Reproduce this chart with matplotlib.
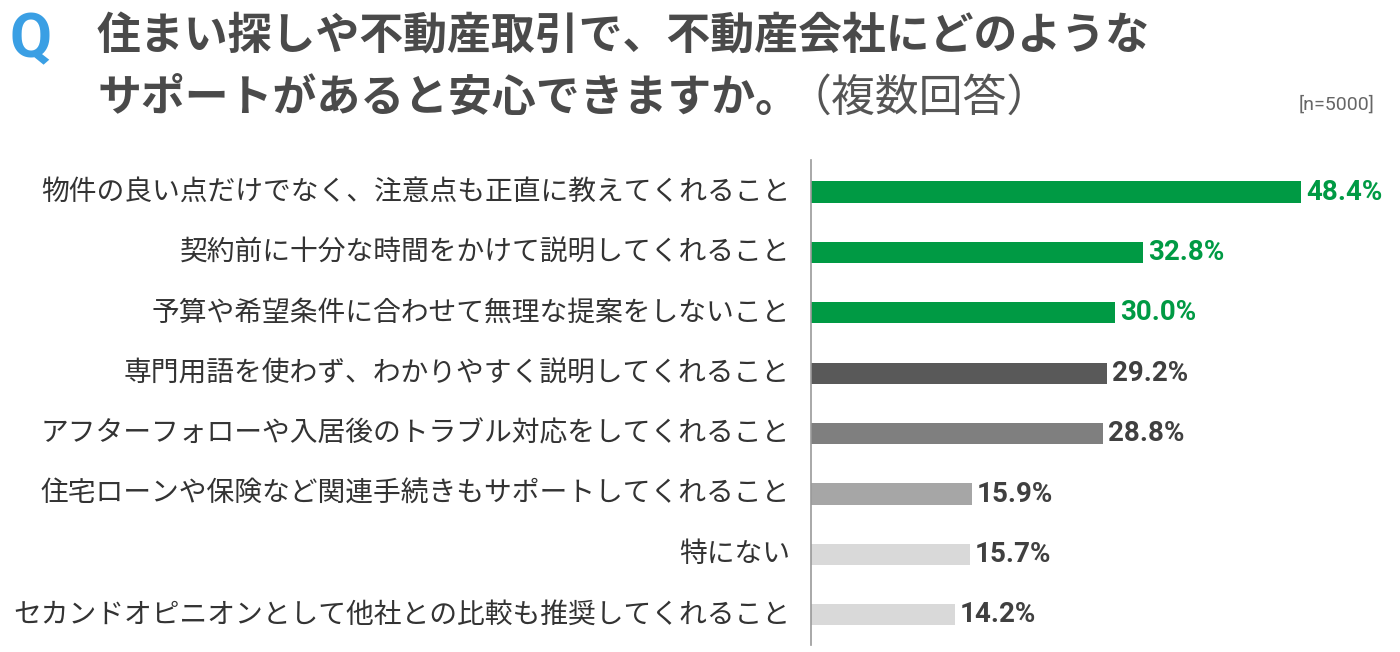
import matplotlib
matplotlib.use("Agg")
import matplotlib.pyplot as plt

plt.rcParams['font.family'] = ['Noto Sans CJK JP', 'DejaVu Sans']

""" Data"""
categories = [
    "物件の良い点だけでなく、注意点も正直に教えてくれること",
    "契約前に十分な時間をかけて説明してくれること",
    "予算や希望条件に合わせて無理な提案をしないこと",
    "専門用語を使わず、わかりやすく説明してくれること",
    "アフターフォローや入居後のトラブル対応をしてくれること",
    "住宅ローンや保険など関連手続きもサポートしてくれること",
    "特にない",
    "セカンドオピニオンとして他社との比較も推奨してくれること",
]
values = [48.4, 32.8, 30.0, 29.2, 28.8, 15.9, 15.7, 14.2]
bar_colors = ["#009a44", "#009a44", "#009a44", "#595959",
              "#7f7f7f", "#a6a6a6", "#d9d9d9", "#d9d9d9"]
label_colors = ["#009a44", "#009a44", "#009a44", "#404040",
                "#404040", "#404040", "#404040", "#404040"]

W, H = 1400, 652
fig = plt.figure(figsize=(W / 100, H / 100), dpi=100)

""" Axes placed in pixel coordinates"""
x0, y_top, y_bot = 811, 160, 645
ax = fig.add_axes([x0 / W, 1 - y_bot / H, (W - x0) / W, (y_bot - y_top) / H])
px_per_pct = (1301 - x0) / 48.4
ax.set_xlim(0, (W - x0) / px_per_pct)
ax.set_ylim(7.5, -0.53)

pos = list(range(len(values)))
ax.barh(pos, values, height=0.35, color=bar_colors)
for i, v in enumerate(values):
    ax.text(v + 0.5, i, f"{v:.1f}%", va="center", ha="left",
            fontsize=20, fontweight="bold", color=label_colors[i],
            family=["Roboto", "DejaVu Sans"])
    fig.text(790 / W, 1 - (192 + 60.4 * i) / H, categories[i],
             ha="right", va="center", fontsize=20, color="#333333")

for s in ["top", "right", "bottom"]:
    ax.spines[s].set_visible(False)
ax.spines["left"].set_color("#999999")
ax.spines["left"].set_linewidth(1.2)
ax.set_xticks([])
ax.set_yticks([])

""" Title"""
fig.text(10 / W, 1 - 40 / H, "Q", ha="left", va="center", fontsize=44,
         fontweight="bold", color="#3a9fe4", family=["Roboto", "DejaVu Sans"])
fig.text(97 / W, 1 - 36 / H, "住まい探しや不動産取引で、不動産会社にどのような",
         ha="left", va="center", fontsize=31.6, fontweight="bold", color="#4a4a4a")
t2 = fig.text(97 / W, 1 - 98 / H, "サポートがあると安心できますか。",
              ha="left", va="center", fontsize=31.6, fontweight="bold", color="#4a4a4a")
fig.canvas.draw()
bb = t2.get_window_extent()
fig.text((bb.x1 - 12) / W, 1 - 98 / H, "（複数回答）", ha="left", va="center",
         fontsize=31.6, color="#555555")
fig.text(1374 / W, 1 - 105 / H, "[n=5000]", ha="right", va="center",
         fontsize=14, color="#666666", family=["Roboto", "DejaVu Sans"])

fig.savefig("out.png", dpi=100)
